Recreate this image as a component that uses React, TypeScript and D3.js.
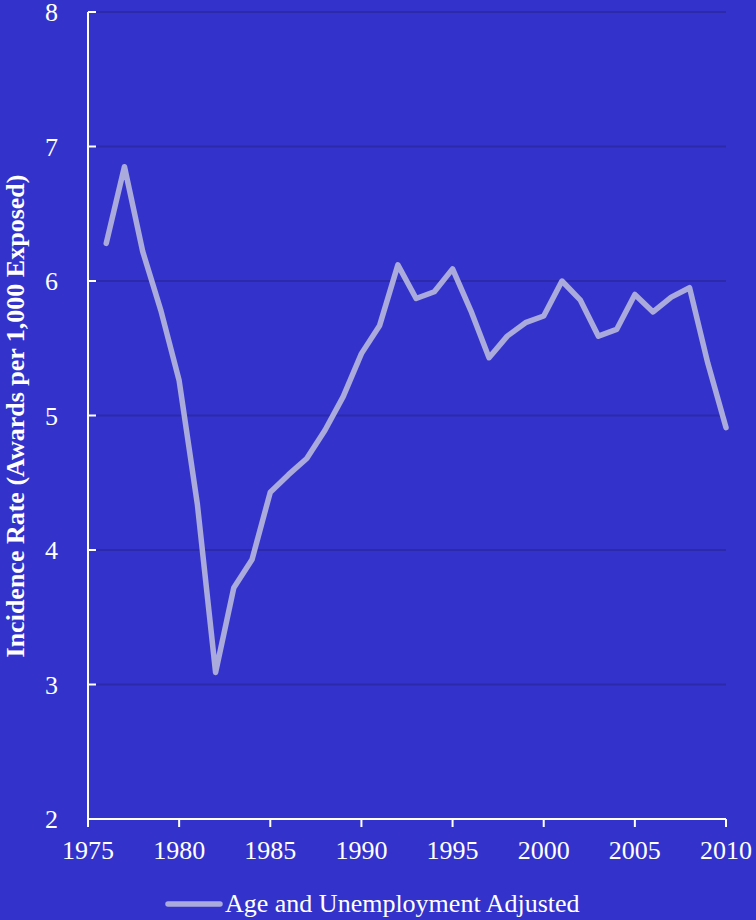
import React from "react";
import * as d3 from "d3";

const years = [1976,1977,1978,1979,1980,1981,1982,1983,1984,1985,1986,1987,1988,1989,1990,1991,1992,1993,1994,1995,1996,1997,1998,1999,2000,2001,2002,2003,2004,2005,2006,2007,2008,2009,2010];
const values = [6.28,6.85,6.22,5.78,5.26,4.34,3.09,3.72,3.93,4.43,4.56,4.68,4.89,5.14,5.46,5.67,6.12,5.87,5.92,6.09,5.78,5.43,5.59,5.69,5.74,6.0,5.86,5.59,5.64,5.9,5.77,5.88,5.95,5.39,4.91];
const xTicks = [1975,1980,1985,1990,1995,2000,2005,2010];
const yTicks = [2,3,4,5,6,7,8];
const seriesName = "Age and Unemployment Adjusted";
const yTitle = "Incidence Rate (Awards per 1,000 Exposed)";

export default function App() {
  const W = 756, H = 920;
  const x = d3.scaleLinear().domain([1975, 2010]).range([88, 726]);
  const y = d3.scaleLinear().domain([2, 8]).range([819, 12]);
  const line = d3.line<number>().x((_, i) => x(years[i])).y((d) => y(d));
  const font = "'Liberation Serif', 'Times New Roman', serif";
  return (
    <svg width={W} height={H} style={{ position: "absolute", left: 0, top: 0 }}>
      <rect width={W} height={H} fill="#3333cc" />
      {yTicks.filter((t) => t > 2).map((t) => (
        <line key={t} x1={96} x2={726} y1={y(t)} y2={y(t)} stroke="#2a2aaa" strokeWidth={2} />
      ))}
      <line x1={x(1975)} x2={x(1975)} y1={y(8)} y2={y(2)} stroke="#fff" strokeWidth={2} />
      <line x1={x(1975)} x2={x(2010)} y1={y(2)} y2={y(2)} stroke="#fff" strokeWidth={2} />
      {yTicks.map((t) => (
        <g key={t}>
          <line x1={x(1975)} x2={x(1975) + 8} y1={y(t)} y2={y(t)} stroke="#fff" strokeWidth={2} />
          <text x={58} y={y(t) + 9} textAnchor="end" fill="#fff" fontFamily={font} fontSize={26}>{t}</text>
        </g>
      ))}
      {xTicks.map((t) => (
        <g key={t}>
          <line x1={x(t)} x2={x(t)} y1={y(2)} y2={y(2) + 8} stroke="#fff" strokeWidth={2} />
          <text x={x(t)} y={859} textAnchor="middle" fill="#fff" fontFamily={font} fontSize={26}>{t}</text>
        </g>
      ))}
      <text transform={`translate(24,416) rotate(-90)`} textAnchor="middle" fill="#fff" fontFamily={font} fontSize={26} fontWeight="bold">{yTitle}</text>
      <path d={line(values) || ""} fill="none" stroke="#aaaadd" strokeWidth={5.5} strokeLinejoin="round" strokeLinecap="round" />
      <line x1={168} x2={220} y1={904} y2={904} stroke="#aaaadd" strokeWidth={5.5} strokeLinecap="round" />
      <text x={225} y={912} fill="#fff" fontFamily={font} fontSize={26}>{seriesName}</text>
    </svg>
  );
}
